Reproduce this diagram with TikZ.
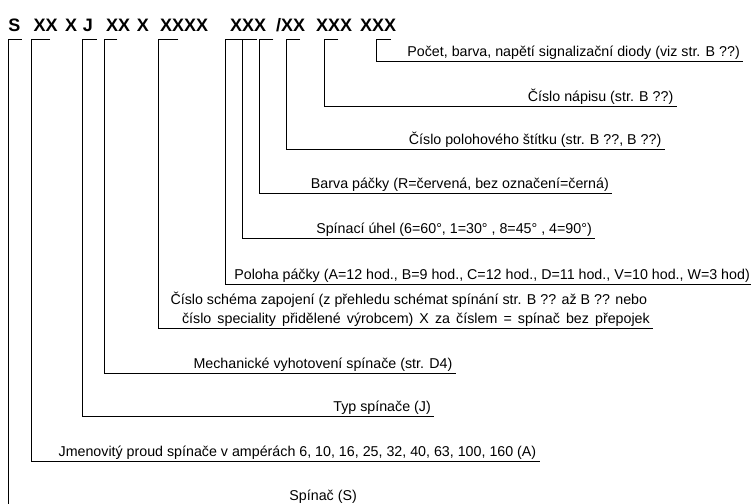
\documentclass[tikz,border=0pt]{standalone}
\usepackage{fontspec}
\setmainfont{Liberation Sans}
\begin{document}
\begin{tikzpicture}[x=1pt,y=-1pt,
  hdr/.style={font=\fontsize{18}{20}\selectfont\bfseries, inner sep=0pt, anchor=base west},
  lbl/.style={font=\fontsize{14.25}{17}\selectfont, inner sep=0pt, anchor=base east},
  br/.style={line width=0.95pt, line join=miter}]
\useasboundingbox (0,0) rectangle (751,503);
\clip (0,0) rectangle (751,503);
% header code
\node[hdr] (hS)  at (8.3,32)  {S};
\node[hdr] (hI)  at (33.3,32) {XX};
\node[hdr] (hX1) at (65,32)   {X};
\node[hdr] (hJ)  at (82.7,32) {J};
\node[hdr] (hM)  at (106,32)  {XX};
\node[hdr] (hX2) at (136.7,32){X};
\node[hdr] (hC)  at (160,32)  {XXXX};
\node[hdr] (hP)  at (230,32)  {XXX};
\node[hdr] (hT)  at (276,32)  {/XX};
\node[hdr] (hN)  at (316,32)  {XXX};
\node[hdr] (hD)  at (360,32)  {XXX};
% labels
\node[lbl] (lD) at (740,56.7) {Počet, barva, napětí signalizační diody (viz str. B ??)};
\node[lbl] (lN) at (673.5,101) {Číslo nápisu (str. B ??)};
\node[lbl] (lT) at (661.5,144.3) {Číslo polohového štítku (str. B ??, B ??)};
\node[lbl] (lB) at (609,188) {Barva páčky (R=červená, bez označení=černá)};
\node[lbl] (lU) at (592,233.3) {Spínací úhel (6=60°, 1=30° , 8=45° , 4=90°)};
\node[lbl] (lP) at (750,279.3) {Poloha páčky (A=12 hod., B=9 hod., C=12 hod., D=11 hod., V=10 hod., W=3 hod)};
\node[lbl] (lC1) at (647.3,304.3) {\makebox[476.6pt][s]{Číslo schéma zapojení (z přehledu schémat spínání str. B ?? až B ?? nebo}};
\node[lbl] (lC) at (650,323) {\makebox[467.7pt][s]{číslo speciality přidělené výrobcem) X za číslem = spínač bez přepojek}};
\node[lbl] (lM) at (452.5,368.3) {Mechanické vyhotovení spínače (str. D4)};
\node[lbl] (lJ) at (431,411.7) {Typ spínače (J)};
\node[lbl] (lI) at (536.5,456) {Jmenovitý proud spínače v ampérách 6, 10, 16, 25, 32, 40, 63, 100, 160 (A)};
\node[lbl] (lS) at (357,500) {Spínač (S)};
% brackets
\coordinate (tS) at (21.7,39.5);  \coordinate (cS) at (8.3,39.5);
\coordinate (tI) at (50,39.5);    \coordinate (cI) at (31.7,39.5);
\coordinate (tJ) at (96.7,39.5);  \coordinate (cJ) at (82.3,39.5);
\coordinate (tM) at (117.3,39.5); \coordinate (cM) at (104,39.5);
\coordinate (tC) at (178.3,39.5); \coordinate (cC) at (158.5,39.5);
\coordinate (tP) at (242.3,39.5); \coordinate (cP) at (225,39.5);
\coordinate (tU) at (256.7,39.5); \coordinate (cU) at (242.3,39.5);
\coordinate (tB) at (273.3,39.5); \coordinate (cB) at (259.5,39.5);
\coordinate (tT) at (300,39.5);   \coordinate (cT) at (286,39.5);
\coordinate (tN) at (338.3,39.5); \coordinate (cN) at (324,39.5);
\coordinate (tD) at (390.7,39.5); \coordinate (cD) at (376,39.5);
\foreach \k in {S,I,J,M,C,P,U,B,T,N,D}
  \draw[br] (t\k) -- (c\k) |- ([shift={(3,5)}]l\k.base east);
\end{tikzpicture}
\end{document}
